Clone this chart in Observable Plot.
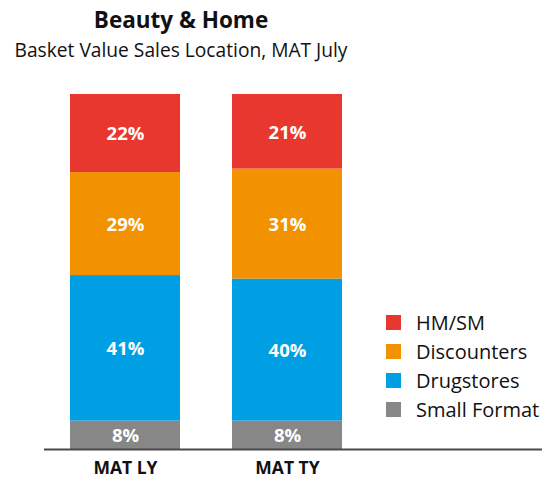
<!DOCTYPE html>
<html>
<head>
<meta charset="utf-8">
<script src="https://cdn.jsdelivr.net/npm/d3@7"></script>
<script src="https://cdn.jsdelivr.net/npm/@observablehq/plot@0.6"></script>
<style>
  html, body { margin: 0; padding: 0; background: #fff; }
  #wrap { position: relative; width: 552px; height: 480px; font-family: "Open Sans", sans-serif; color: #111; overflow: hidden; }
  #title { position: absolute; left: 0; width: 362px; top: 5px; text-align: center; font-weight: 700; font-size: 22.5px; line-height: 30px; }
  #subtitle { position: absolute; left: 0; width: 362px; top: 37px; text-align: center; font-size: 19.2px; line-height: 26px; }
  #chart { position: absolute; left: 0; top: 80px; }
  #legend { position: absolute; left: 386px; top: 308px; }
  .item { display: flex; align-items: center; height: 29px; font-size: 20px; }
  .sw { width: 15px; height: 15px; margin-right: 15px; flex: none; }
</style>
</head>
<body>
<div id="wrap">
  <div id="title">Beauty &amp; Home</div>
  <div id="subtitle">Basket Value Sales Location, MAT July</div>
  <div id="chart"></div>
  <div id="legend"></div>
</div>
<script>
const periods = ["MAT LY", "MAT TY"];
const channels = ["Small Format", "Drugstores", "Discounters", "HM/SM"];
const legendOrder = ["HM/SM", "Discounters", "Drugstores", "Small Format"];
const colors = ["#878787", "#009FE3", "#F39200", "#E8372E"];
const matLY = [8, 41, 29, 22];
const matTY = [8, 40, 31, 21];

const rows = [];
channels.forEach((c, i) => {
  rows.push({period: periods[0], channel: c, value: matLY[i]});
  rows.push({period: periods[1], channel: c, value: matTY[i]});
});

const chart = Plot.plot({
  width: 552,
  height: 400,
  marginTop: 14,
  marginBottom: 31,
  marginLeft: 44,
  marginRight: 10,
  style: {fontFamily: "Open Sans, sans-serif", background: "transparent"},
  x: {domain: periods, range: [44, 368], paddingInner: 0.32, paddingOuter: 0.16, label: null},
  y: {domain: [0, 100], axis: null},
  color: {domain: channels, range: colors},
  marks: [
    Plot.barY(rows, Plot.stackY({x: "period", y: "value", fill: "channel", order: channels})),
    Plot.text(rows, Plot.stackY({x: "period", y: "value", z: "channel", order: channels,
      text: d => d.value + "%", fill: "white", fontWeight: "bold", fontSize: 18.5, dy: 1})),
    Plot.ruleY([0], {stroke: "#4a4a4a", strokeWidth: 2.2}),
    Plot.axisX({tickSize: 0, tickPadding: 12, fontSize: 17.5, fontWeight: "bold", fill: "#111", label: null})
  ]
});
document.getElementById("chart").appendChild(chart);

const legend = document.getElementById("legend");
legendOrder.forEach(name => {
  const item = document.createElement("div");
  item.className = "item";
  const sw = document.createElement("span");
  sw.className = "sw";
  sw.style.background = colors[channels.indexOf(name)];
  const label = document.createElement("span");
  label.textContent = name;
  item.appendChild(sw);
  item.appendChild(label);
  legend.appendChild(item);
});
</script>
</body>
</html>
